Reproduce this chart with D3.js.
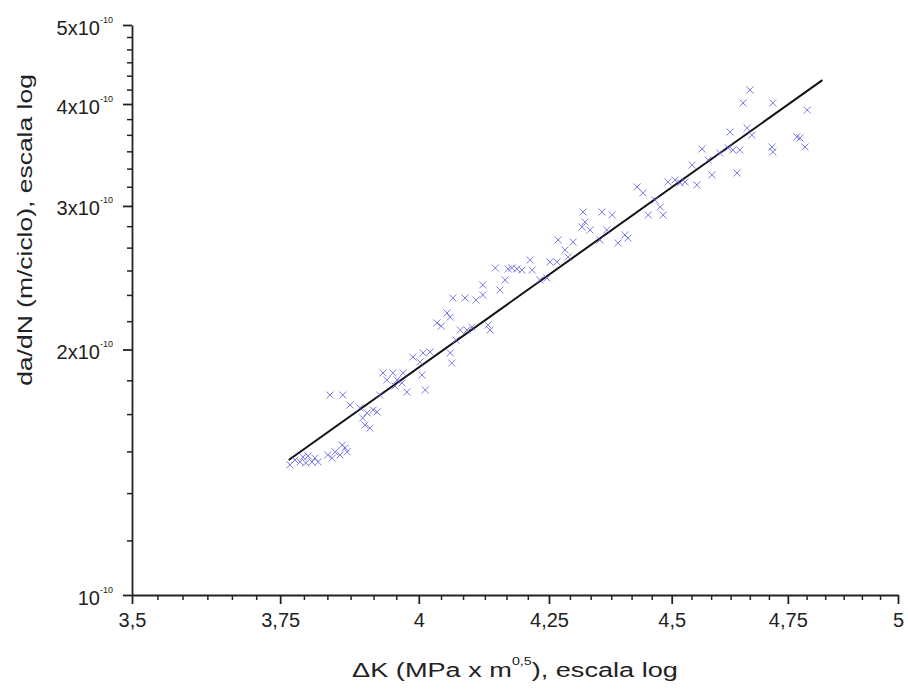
<!DOCTYPE html>
<html>
<head>
<meta charset="utf-8">
<script src="https://cdn.jsdelivr.net/npm/d3@7"></script>
<style>
  html, body { margin: 0; padding: 0; background: #fff; }
  svg { display: block; }
  text { font-family: Arial, "Liberation Sans", sans-serif; fill: #222; }
</style>
</head>
<body>
<svg id="chart" width="908" height="691"></svg>
<script>
// ---- data ----
const dkValues = [
  3.767, 3.776, 3.790, 3.799, 3.806, 3.811, 3.795, 3.834, 3.842, 3.847,
  3.860, 3.865, 3.869, 3.838, 3.861, 3.874, 3.897, 3.905, 3.910, 3.916,
  3.923, 3.901, 3.934, 3.941, 3.952, 3.960, 3.969, 3.978, 3.971, 4.006,
  4.012, 4.008, 4.021, 3.989, 4.059, 4.062, 4.034, 4.042, 4.053, 4.064,
  4.070, 4.078, 4.087, 4.091, 4.100, 4.059, 4.121, 4.121, 4.131, 4.135,
  4.154, 4.145, 4.170, 4.187, 4.197, 4.217, 4.213, 4.246, 4.252, 4.266,
  4.288, 4.268, 4.298, 4.316, 4.322, 4.318, 4.356, 4.377, 4.366, 4.403,
  4.389, 4.428, 4.440, 4.476, 4.482, 4.543, 4.528, 4.553, 4.564, 4.585,
  4.602, 4.624, 4.630, 4.645, 4.639, 4.661, 4.652, 4.667, 4.717, 4.715,
  4.717, 4.770, 4.777, 4.788, 4.793, 4.232, 4.177, 4.352, 4.465, 4.451,
  4.507, 4.518, 4.492, 4.620, 4.671, 3.956, 3.928, 3.892, 3.785, 3.817,
  3.856, 4.002, 4.108, 4.164, 4.282, 4.332, 4.409, 4.577
];
const dadnValues = [
  1.444e-10, 1.464e-10, 1.477e-10, 1.481e-10, 1.456e-10, 1.472e-10, 1.452e-10, 1.485e-10, 1.472e-10, 1.498e-10,
  1.527e-10, 1.515e-10, 1.498e-10, 1.759e-10, 1.759e-10, 1.710e-10, 1.648e-10, 1.672e-10, 1.602e-10, 1.686e-10,
  1.677e-10, 1.616e-10, 1.872e-10, 1.835e-10, 1.872e-10, 1.835e-10, 1.820e-10, 1.774e-10, 1.872e-10, 1.861e-10,
  1.784e-10, 1.981e-10, 1.986e-10, 1.958e-10, 1.981e-10, 1.925e-10, 2.156e-10, 2.137e-10, 2.217e-10, 2.313e-10,
  2.054e-10, 2.113e-10, 2.313e-10, 2.113e-10, 2.131e-10, 2.192e-10, 2.400e-10, 2.333e-10, 2.143e-10, 2.113e-10,
  2.366e-10, 2.518e-10, 2.511e-10, 2.511e-10, 2.503e-10, 2.503e-10, 2.575e-10, 2.448e-10, 2.561e-10, 2.561e-10,
  2.597e-10, 2.725e-10, 2.709e-10, 2.827e-10, 2.867e-10, 2.949e-10, 2.949e-10, 2.924e-10, 2.803e-10, 2.764e-10,
  2.702e-10, 3.165e-10, 3.112e-10, 2.991e-10, 2.924e-10, 3.367e-10, 3.210e-10, 3.183e-10, 3.523e-10, 3.274e-10,
  3.483e-10, 3.696e-10, 3.513e-10, 3.513e-10, 3.292e-10, 3.738e-10, 4.012e-10, 4.162e-10, 4.012e-10, 3.543e-10,
  3.494e-10, 3.645e-10, 3.634e-10, 3.543e-10, 3.933e-10, 2.434e-10, 2.518e-10, 2.725e-10, 3.051e-10, 2.924e-10,
  3.228e-10, 3.201e-10, 3.210e-10, 3.533e-10, 3.665e-10, 1.804e-10, 1.759e-10, 1.696e-10, 1.456e-10, 1.456e-10,
  1.485e-10, 1.931e-10, 2.300e-10, 2.434e-10, 2.649e-10, 2.803e-10, 2.740e-10, 3.415e-10
];
// fitted power-law line (end points)
const fitDK = [3.765, 4.827];
const fitDaDN = [1.464e-10, 4.28e-10];

// tick values / labels
const xMajorTicks = [3.5, 3.75, 4, 4.25, 4.5, 4.75, 5];
const yMajorTicks = [1e-10, 2e-10, 3e-10, 4e-10, 5e-10];
const yTickMantissa = ["", "2x", "3x", "4x", "5x"];
const xTitle = { main: "\u0394K (MPa x m", sup: "0,5", tail: "), escala log" };
const yTitle = "da/dN (m/ciclo), escala log";

// ---- layout ----
const svg = d3.select("#chart");
const x = d3.scaleLog().domain([3.5, 5]).range([132, 898]);
const y = d3.scaleLog().domain([1e-10, 5e-10]).range([595, 25]);

function subdivide(majors, n) {
  const out = [];
  for (let i = 0; i < majors.length - 1; i++) {
    const a = majors[i], b = majors[i + 1];
    for (let k = 1; k < n; k++) out.push(a + (b - a) * k / n);
  }
  return out;
}
const xMinor = subdivide(xMajorTicks, 6);
const yMinor = subdivide(yMajorTicks, 6);

const axisColor = "#222";

// X minor
svg.append("g").attr("transform", `translate(0,${y.range()[0]})`)
  .call(d3.axisBottom(x).tickValues(xMinor).tickSize(5).tickFormat(""))
  .call(g => g.select(".domain").remove())
  .call(g => g.selectAll("line").attr("stroke", axisColor).attr("stroke-width", 1.5));
// X major
const gx = svg.append("g").attr("transform", `translate(0,${y.range()[0]})`)
  .call(d3.axisBottom(x).tickValues(xMajorTicks).tickSize(9).tickSizeOuter(0)
    .tickFormat(d => String(d).replace(".", ",")));
gx.select(".domain").attr("stroke", axisColor).attr("stroke-width", 1.8);
gx.selectAll("line").attr("stroke", axisColor).attr("stroke-width", 1.8);
gx.selectAll("text").attr("font-size", 20).attr("y", 18).attr("dy", "0.71em").attr("fill", "#222");

// Y minor
svg.append("g").attr("transform", `translate(${x.range()[0]},0)`)
  .call(d3.axisLeft(y).tickValues(yMinor).tickSize(5).tickFormat(""))
  .call(g => g.select(".domain").remove())
  .call(g => g.selectAll("line").attr("stroke", axisColor).attr("stroke-width", 1.5));
// Y major
const gy = svg.append("g").attr("transform", `translate(${x.range()[0]},0)`)
  .call(d3.axisLeft(y).tickValues(yMajorTicks).tickSize(9).tickSizeOuter(0).tickFormat(""));
gy.select(".domain").attr("stroke", axisColor).attr("stroke-width", 1.8);
gy.selectAll("line").attr("stroke", axisColor).attr("stroke-width", 1.8);
gy.selectAll(".tick").each(function (d, i) {
  const t = d3.select(this).append("text")
    .attr("x", -19).attr("y", 9).attr("text-anchor", "end").attr("fill", "#222");
  t.append("tspan").attr("font-size", 20).text(yTickMantissa[i] + "10");
  t.append("tspan").attr("font-size", 9).attr("dy", -12).text("-10");
});

// fit line
const line = d3.line().x(d => x(d[0])).y(d => y(d[1]));
svg.append("path")
  .datum(fitDK.map((d, i) => [d, fitDaDN[i]]))
  .attr("d", line).attr("fill", "none").attr("stroke", "#111").attr("stroke-width", 2);

// scatter markers (x)
const pts = dkValues.map((d, i) => [d, dadnValues[i]]);
const s = 3.5;
svg.append("g").selectAll("path").data(pts).join("path")
  .attr("transform", d => `translate(${x(d[0])},${y(d[1])})`)
  .attr("d", `M${-s},${-s}L${s},${s}M${-s},${s}L${s},${-s}`)
  .attr("stroke", "#5a5ae6").attr("stroke-width", 1).attr("fill", "none").attr("opacity", 0.8);

// axis titles (stretched horizontally like the reference)
const xtG = svg.append("g");
const xt = xtG.append("text").attr("x", 0).attr("y", 0)
  .attr("text-anchor", "middle").attr("font-size", 21);
xt.append("tspan").text(xTitle.main);
xt.append("tspan").attr("font-size", 11).attr("dy", -12).text(xTitle.sup);
xt.append("tspan").attr("dy", 12).text(xTitle.tail);
const xtw = xt.node().getBBox().width;
xtG.attr("transform", `translate(${(x.range()[0] + x.range()[1]) / 2},677) scale(${326 / xtw},1)`);

const ytG = svg.append("g");
const yt = ytG.append("text").attr("x", 0).attr("y", 0)
  .attr("text-anchor", "middle").attr("font-size", 21).text(yTitle);
const ytw = yt.node().getBBox().width;
ytG.attr("transform", `translate(32,230) rotate(-90) scale(${312 / ytw},1)`);
</script>
</body>
</html>
